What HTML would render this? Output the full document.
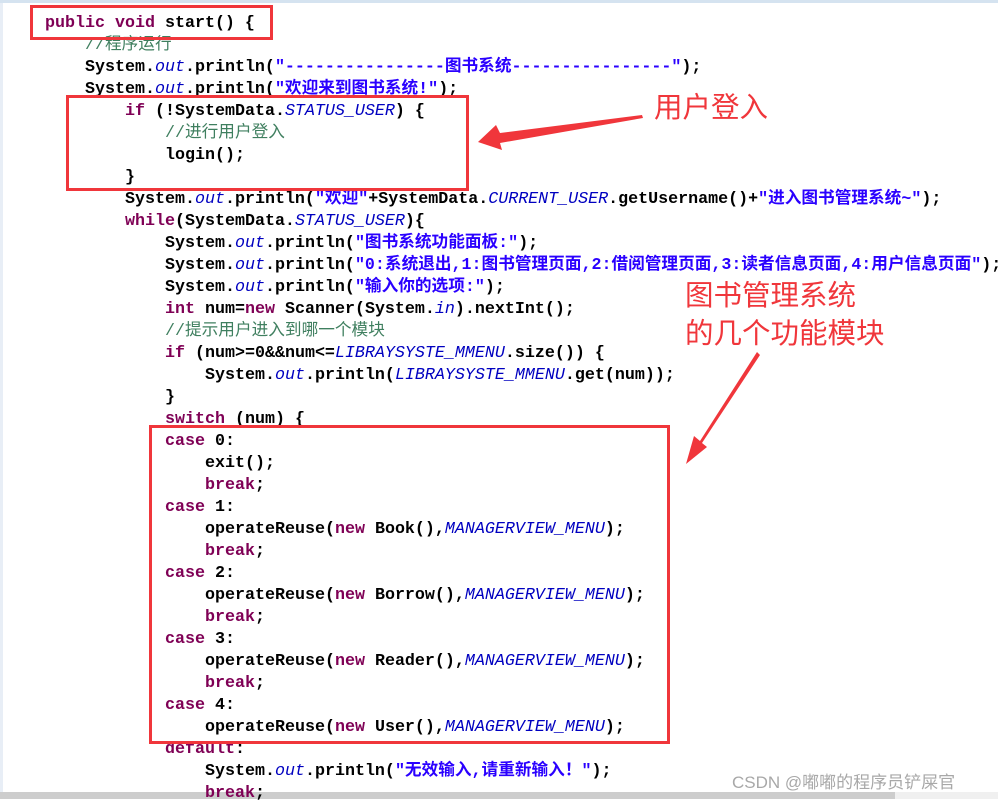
<!DOCTYPE html>
<html><head><meta charset="utf-8"><style>
body{margin:0;width:998px;height:799px;background:#fff;position:relative;overflow:hidden}
.l{position:absolute;white-space:pre;font-family:"Liberation Mono","Noto Sans CJK SC",monospace;font-size:16.67px;line-height:22px;color:#000;font-weight:bold;margin-top:2px}
.k{color:#7f0055}.c{color:#3f7f5f;font-weight:normal}.s{color:#2a00ff}.f{color:#0000c0;font-style:italic;font-weight:normal}
.box{position:absolute;border:3px solid #f0363b;box-sizing:border-box}
.t{position:absolute;font-family:"Noto Sans CJK SC",sans-serif;font-size:28.5px;color:#f0363b;line-height:38px}
</style></head><body>
<div style="position:absolute;left:0;top:0;width:998px;height:3px;background:#d5e3f0"></div>
<div style="position:absolute;left:0;top:3px;width:3px;height:790px;background:#e8eef6"></div>
<div style="position:absolute;left:0;top:792px;width:998px;height:7px;background:#f0f0f0"></div>
<div style="position:absolute;left:0;top:792px;width:895px;height:7px;background:#cdcdcd"></div>

<div class="l" style="left:45px;top:11px"><span class="k">public</span> <span class="k">void</span> start() {</div>
<div class="l" style="left:85px;top:33px"><span class="c">//程序运行</span></div>
<div class="l" style="left:85px;top:55px">System.<span class="f">out</span>.println(<span class="s">"----------------图书系统----------------"</span>);</div>
<div class="l" style="left:85px;top:77px">System.<span class="f">out</span>.println(<span class="s">"欢迎来到图书系统!"</span>);</div>
<div class="l" style="left:125px;top:99px"><span class="k">if</span> (!SystemData.<span class="f">STATUS_USER</span>) {</div>
<div class="l" style="left:165px;top:121px"><span class="c">//进行用户登入</span></div>
<div class="l" style="left:165px;top:143px">login();</div>
<div class="l" style="left:125px;top:165px">}</div>
<div class="l" style="left:125px;top:187px">System.<span class="f">out</span>.println(<span class="s">"欢迎"</span>+SystemData.<span class="f">CURRENT_USER</span>.getUsername()+<span class="s">"进入图书管理系统~"</span>);</div>
<div class="l" style="left:125px;top:209px"><span class="k">while</span>(SystemData.<span class="f">STATUS_USER</span>){</div>
<div class="l" style="left:165px;top:231px">System.<span class="f">out</span>.println(<span class="s">"图书系统功能面板:"</span>);</div>
<div class="l" style="left:165px;top:253px">System.<span class="f">out</span>.println(<span class="s">"0:系统退出,1:图书管理页面,2:借阅管理页面,3:读者信息页面,4:用户信息页面"</span>);</div>
<div class="l" style="left:165px;top:275px">System.<span class="f">out</span>.println(<span class="s">"输入你的选项:"</span>);</div>
<div class="l" style="left:165px;top:297px"><span class="k">int</span> num=<span class="k">new</span> Scanner(System.<span class="f">in</span>).nextInt();</div>
<div class="l" style="left:165px;top:319px"><span class="c">//提示用户进入到哪一个模块</span></div>
<div class="l" style="left:165px;top:341px"><span class="k">if</span> (num&gt;=0&amp;&amp;num&lt;=<span class="f">LIBRAYSYSTE_MMENU</span>.size()) {</div>
<div class="l" style="left:205px;top:363px">System.<span class="f">out</span>.println(<span class="f">LIBRAYSYSTE_MMENU</span>.get(num));</div>
<div class="l" style="left:165px;top:385px">}</div>
<div class="l" style="left:165px;top:407px"><span class="k">switch</span> (num) {</div>
<div class="l" style="left:165px;top:429px"><span class="k">case</span> 0:</div>
<div class="l" style="left:205px;top:451px">exit();</div>
<div class="l" style="left:205px;top:473px"><span class="k">break</span>;</div>
<div class="l" style="left:165px;top:495px"><span class="k">case</span> 1:</div>
<div class="l" style="left:205px;top:517px">operateReuse(<span class="k">new</span> Book(),<span class="f">MANAGERVIEW_MENU</span>);</div>
<div class="l" style="left:205px;top:539px"><span class="k">break</span>;</div>
<div class="l" style="left:165px;top:561px"><span class="k">case</span> 2:</div>
<div class="l" style="left:205px;top:583px">operateReuse(<span class="k">new</span> Borrow(),<span class="f">MANAGERVIEW_MENU</span>);</div>
<div class="l" style="left:205px;top:605px"><span class="k">break</span>;</div>
<div class="l" style="left:165px;top:627px"><span class="k">case</span> 3:</div>
<div class="l" style="left:205px;top:649px">operateReuse(<span class="k">new</span> Reader(),<span class="f">MANAGERVIEW_MENU</span>);</div>
<div class="l" style="left:205px;top:671px"><span class="k">break</span>;</div>
<div class="l" style="left:165px;top:693px"><span class="k">case</span> 4:</div>
<div class="l" style="left:205px;top:715px">operateReuse(<span class="k">new</span> User(),<span class="f">MANAGERVIEW_MENU</span>);</div>
<div class="l" style="left:165px;top:737px"><span class="k">default</span>:</div>
<div class="l" style="left:205px;top:759px">System.<span class="f">out</span>.println(<span class="s">"无效输入,请重新输入！"</span>);</div>
<div class="l" style="left:205px;top:781px"><span class="k">break</span>;</div>

<div class="box" style="left:30px;top:5px;width:243px;height:35px"></div>
<div class="box" style="left:66px;top:95px;width:403px;height:96px"></div>
<div class="box" style="left:149px;top:425px;width:521px;height:319px"></div>

<div class="t" style="left:654px;top:87px">用户登入</div>
<div class="t" style="left:685px;top:275px">图书管理系统</div>
<div class="t" style="left:685px;top:313px">的几个功能模块</div>

<svg width="998" height="799" style="position:absolute;left:0;top:0">
<polygon points="642,115 500,133 496,125 478,142 502,150 500,143 643,118" fill="#f0363b"/>
<polygon points="757,352 700,441 694,436 686,464 707,447 702,443 760,355" fill="#f0363b"/>
</svg>

<div style="position:absolute;left:732px;top:768px;font-family:'Liberation Sans','Noto Sans CJK SC',sans-serif;font-size:17px;color:#a8a8a8">CSDN @嘟嘟的程序员铲屎官</div>
</body></html>
